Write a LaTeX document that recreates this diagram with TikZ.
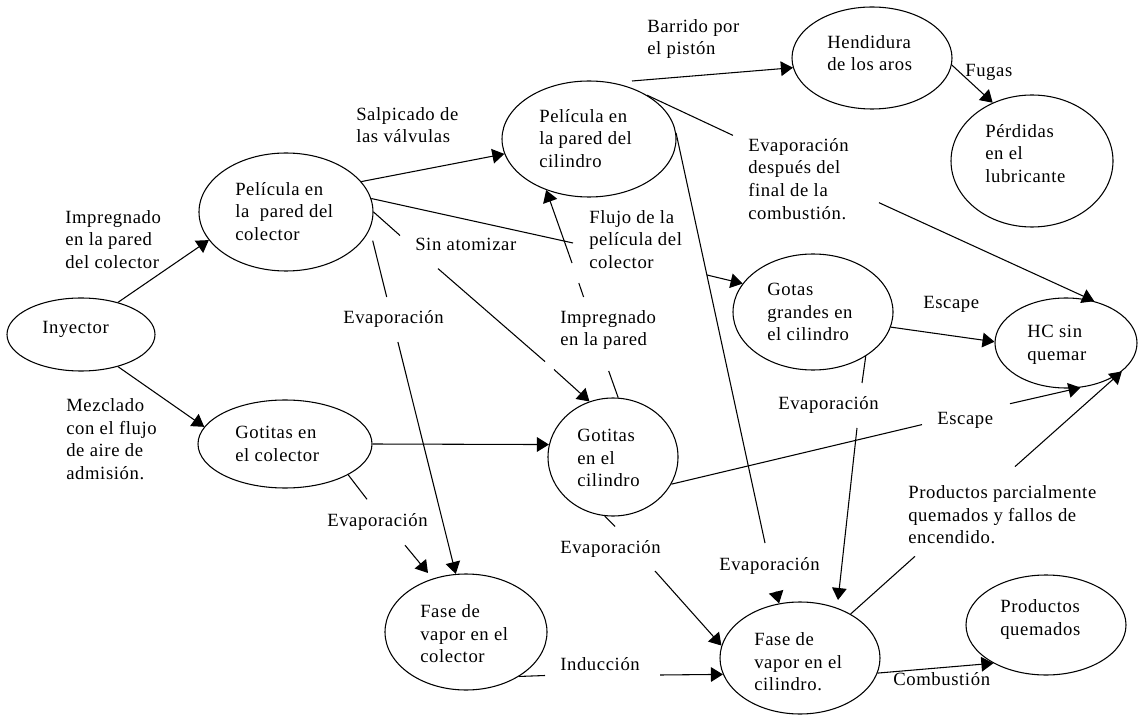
\documentclass[tikz,border=0pt]{standalone}
\usepackage{fontspec}
\setmainfont[LetterSpace=3.3]{Liberation Serif}
\usetikzlibrary{arrows.meta,shapes.geometric}
\tikzset{
  ell/.style 2 args={ellipse, draw, line width=0.8pt, inner sep=0pt,
    minimum width=#1*1.5pt, minimum height=#2*1.5pt},
  txt/.style={anchor=north west, inner sep=0pt, align=left, yshift=8.1pt,
    font=\fontsize{14pt}{17pt}\selectfont},
  con/.style={line width=0.8pt},
  arr/.style={con, -{Triangle[length=9pt,width=11pt]}},
}
\begin{document}
\begin{tikzpicture}[x=0.75pt,y=-0.75pt]
\path[use as bounding box, fill=white] (0,0) rectangle (1138,716);

% ellipses
\node[ell={74}{36.5}] (iny)   at (81,334.5) {};
\node[ell={87}{59}]   (pcol)  at (286,212) {};
\node[ell={87}{58}]   (pcil)  at (589,139) {};
\node[ell={80}{51}]   (hend)  at (872,58) {};
\node[ell={81}{66}]   (perd)  at (1032,161) {};
\node[ell={80}{58}]   (gotg)  at (813,312) {};
\node[ell={71}{45}]   (hc)    at (1066,343) {};
\node[ell={87}{44}]   (gcol)  at (285,444) {};
\node[ell={65}{59}]   (gcil)  at (613,457) {};
\node[ell={81}{58}]   (fvcol) at (466,632) {};
\node[ell={80}{56}]   (fvcil) at (800,658) {};
\node[ell={80}{50}]   (prq)   at (1046,625) {};

% texts inside ellipses
\node[txt] (iny-t)   at (42,328)   {\strut Inyector};
\node[txt] (pcol-t)  at (235,190)  {\strut Película en\\la\ \ pared del\\colector};
\node[txt] (pcil-t)  at (539,117)  {\strut Película en\\la pared del\\cilindro};
\node[txt] (hend-t)  at (827,43)   {\strut Hendidura\\de los aros};
\node[txt] (perd-t)  at (985,132)  {\strut Pérdidas\\en el\\lubricante};
\node[txt] (gotg-t)  at (767,290)  {\strut Gotas\\grandes en\\el cilindro};
\node[txt] (hc-t)    at (1027,332) {\strut HC sin\\quemar};
\node[txt] (gcol-t)  at (235,433)  {\strut Gotitas en\\el colector};
\node[txt] (gcil-t)  at (577,436)  {\strut Gotitas\\en el\\cilindro};
\node[txt] (fvcol-t) at (420,612)  {\strut Fase de\\vapor en el\\colector};
\node[txt] (fvcil-t) at (754,640)  {\strut Fase de\\vapor en el\\cilindro.};
\node[txt] (prq-t)   at (1000,607) {\strut Productos\\quemados};

% labels
\node[txt] (l-imp1)  at (65,218)  {\strut Impregnado\\en la pared\\del colector};
\node[txt] (l-mez)   at (66,406)  {\strut Mezclado\\con el flujo\\de aire de\\admisión.};
\node[txt] (l-salp)  at (356,115) {\strut Salpicado de\\las válvulas};
\node[txt] (l-barr)  at (647,27)  {\strut Barrido por\\el pistón};
\node[txt] (l-fug)   at (965,71)  {\strut Fugas};
\node[txt] (l-evd)   at (748,146) {\strut Evaporación\\después del\\final de la\\combustión.};
\node[txt] (l-flu)   at (589,218) {\strut Flujo de la\\película del\\colector};
\node[txt] (l-sin)   at (415,245) {\strut Sin atomizar};
\node[txt] (l-ev1)   at (343,318) {\strut Evaporación};
\node[txt] (l-imp2)  at (560,318) {\strut Impregnado\\en la pared};
\node[txt] (l-esc1)  at (923,303) {\strut Escape};
\node[txt] (l-ev2)   at (778,404) {\strut Evaporación};
\node[txt] (l-ev3)   at (327,521) {\strut Evaporación};
\node[txt] (l-ev4)   at (560,548) {\strut Evaporación};
\node[txt] (l-ev5)   at (719,565) {\strut Evaporación};
\node[txt] (l-esc2)  at (937,419) {\strut Escape};
\node[txt] (l-prod)  at (908,493) {\strut Productos parcialmente\\quemados y fallos de\\encendido.};
\node[txt] (l-ind)   at (560,665) {\strut Inducción};
\node[txt] (l-comb)  at (893,680) {\strut Combustión};

% free ends and gap points
\coordinate (f0) at (372.7,240.7);
\coordinate (g0) at (632,81);
\coordinate (l3) at (428,573);
\coordinate (p3) at (838,600);
\coordinate (d1) at (573,243);   \coordinate (d2) at (707,275);
\coordinate (e1) at (400,235.5); \coordinate (e2) at (438,268.6);
\coordinate (e3) at (545,361.6); \coordinate (e4) at (554,369.5);
\coordinate (f1) at (386.7,297); \coordinate (f2) at (397.9,342);
\coordinate (i1) at (733,135.4); \coordinate (i2) at (879,202.7);
\coordinate (j1) at (765,543);   \coordinate (j2) at (776,591.5);
\coordinate (l1) at (367,499.3); \coordinate (l2) at (405,545.2);
\coordinate (m1) at (615,526.5); \coordinate (m2) at (655,571);
\coordinate (n1) at (922,424.6); \coordinate (n2) at (1010,403.7);
\coordinate (p1) at (862,383);   \coordinate (p2) at (857,428);
\coordinate (q1) at (545,675.5); \coordinate (q2) at (660,675);
\coordinate (r1) at (915,556.3); \coordinate (r2) at (1015,466.6);
\coordinate (t1) at (608.7,371); \coordinate (t2) at (583.6,297);
\coordinate (t3) at (578.8,283); \coordinate (t4) at (572,263);

% connectors
\draw[arr] (iny.41) -- (pcol.200.5);
\draw[arr] (iny.-41) -- (gcol.168.8);
\draw[arr] (pcol.22.9) -- (pcil.190.4);
\draw[con] (pcol.9.4) -- (d1);  \draw[arr] (d2) -- (gotg.158.2);
\draw[con] (pcol.0) -- (e1); \draw[con] (e2) -- (e3); \draw[arr] (e4) -- (gcil.113.3);
\draw[con] (f0) -- (f1); \draw[arr] (f2) -- (fvcol.100.4);
\draw[arr] (g0) -- (hend.187.1);
\draw[arr] (hend.-5) -- (perd.124.9);
\draw[con] (pcil.37.2) -- (i1); \draw[arr] (i2) -- (hc.56.3);
\draw[con] (pcil.4) -- (j1); \draw[arr] (j2) -- (fvcil.111.6);
\draw[arr] (gcol.0) -- (gcil.169.7);
\draw[con] (gcol.-26.6) -- (l1); \draw[arr] (l2) -- (l3);
\draw[con] (gcil.262.4) -- (m1); \draw[arr] (m2) -- (fvcil.171);
\draw[con] (gcil.-25.4) -- (n1); \draw[arr] (n2) -- (hc.-72.4);
\draw[arr] (gotg.-11.3) -- (hc.179.2);
\draw[con] (gotg.-40.3) -- (p1); \draw[arr] (p2) -- (p3);
\draw[con] (fvcol.-40) -- (q1); \draw[arr] (q2) -- (fvcil.192.5);
\draw[con] (fvcil.41) -- (r1); \draw[arr] (r2) -- (hc.-27.7);
\draw[arr] (fvcil.-11.6) -- (prq.216);
\draw[con] (gcil.85.1) -- (t1); \draw[con] (t2) -- (t3); \draw[arr] (t4) -- (pcil.230.5);
\end{tikzpicture}
\end{document}
